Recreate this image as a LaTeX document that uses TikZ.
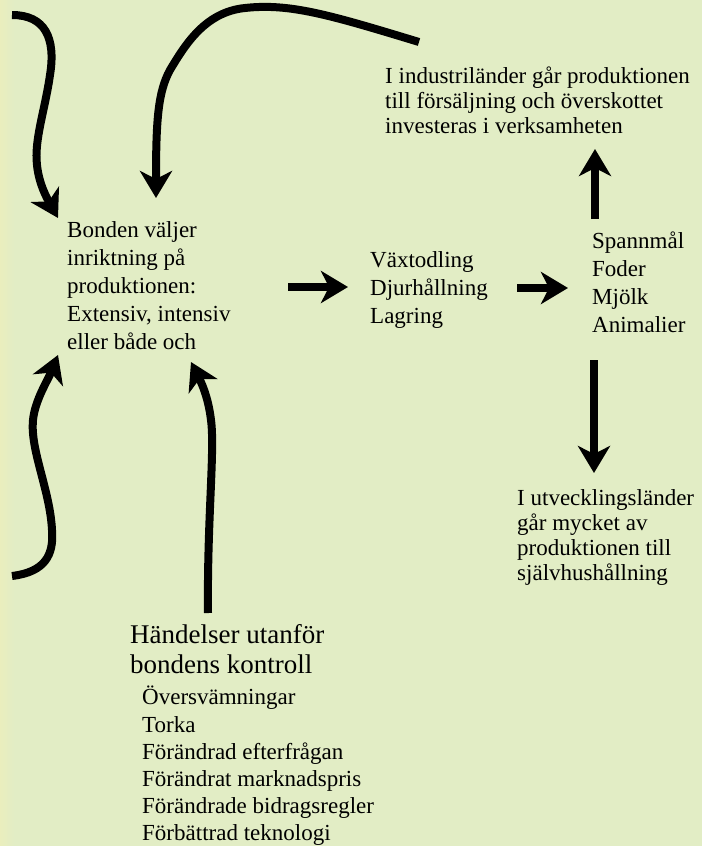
\documentclass[tikz,border=0pt]{standalone}
\usepackage{fontspec}
\setmainfont{Liberation Serif}
\usetikzlibrary{arrows.meta}
\definecolor{bakgrund}{RGB}{226,237,197}
\definecolor{kant}{RGB}{234,238,189}
\begin{document}
\begin{tikzpicture}[x=1pt,y=-1pt,
  pil/.style={line width=8pt,-{Stealth[length=27pt,width=32pt,inset=8pt]}},
  txt/.style={anchor=north west,inner sep=0pt,align=left,font=\fontsize{23}{28}\selectfont},
  tight/.style={txt,font=\fontsize{23}{25}\selectfont},
  rubrik/.style={txt,font=\fontsize{27}{30}\selectfont},
  lista/.style={txt,font=\fontsize{23}{27.2}\selectfont}]
  \fill[bakgrund] (0,0) rectangle (702,846);
  \shade[left color=kant,right color=bakgrund] (0,0) rectangle (14,846);
  \useasboundingbox (0,0) rectangle (702,846);

  \node[txt] (bonden) at (67,221) {Bonden väljer\\inriktning på\\produktionen:\\Extensiv, intensiv\\eller både och};
  \node[txt] (odling) at (370,251) {Växtodling\\Djurhållning\\Lagring};
  \node[txt] (produkter) at (592,232) {Spannmål\\Foder\\Mjölk\\Animalier};
  \node[tight] (iland) at (385,67) {I industriländer går produktionen\\till försäljning och överskottet\\investeras i verksamheten};
  \node[tight] (uland) at (517,489) {I utvecklingsländer\\går mycket av\\produktionen till\\självhushållning};
  \node[rubrik] (handelser) at (130,624) {Händelser utanför\\bondens kontroll};
  \node[lista] (faktorer) at (142,686) {Översvämningar\\Torka\\Förändrad efterfrågan\\Förändrat marknadspris\\Förändrade bidragsregler\\Förbättrad teknologi};

  % raka pilar
  \coordinate (b1) at (288,287);
  \coordinate (o1) at (348,287);
  \coordinate (o2) at (517,288);
  \coordinate (p1) at (568,288);
  \coordinate (p2) at (595,219);
  \coordinate (i1) at (595,149);
  \coordinate (p3) at (594,360);
  \coordinate (u1) at (594,473);
  \draw[pil] (b1) -- (o1);
  \draw[pil] (o2) -- (p1);
  \draw[pil] (p2) -- (i1);
  \draw[pil] (p3) -- (u1);

  % kurviga pilar
  \coordinate (v0) at (12,15);
  \coordinate (v1) at (58,218);
  \coordinate (i2) at (419,42);
  \coordinate (v2) at (156,198);
  \coordinate (n0) at (12,576);
  \coordinate (n1) at (58,355);
  \coordinate (h1) at (208,613);
  \coordinate (h2) at (191,362);
  \draw[pil] (v0) .. controls (45,15) and (56,38) .. (50,75)
    .. controls (45,110) and (34,140) .. (37,165)
    .. controls (39,185) and (48,200) .. (v1);
  \draw[pil] (i2) .. controls (330,15) and (290,3) .. (245,8)
    .. controls (205,12) and (185,45) .. (170,70)
    .. controls (158,92) and (156,120) .. (v2);
  \draw[pil] (n0) .. controls (45,572) and (54,555) .. (52,530)
    .. controls (50,490) and (30,450) .. (33,420)
    .. controls (35,400) and (48,380) .. (n1);
  \draw[pil] (h1) .. controls (207,520) and (215,450) .. (211,420)
    .. controls (208,395) and (200,380) .. (h2);
\end{tikzpicture}
\end{document}
